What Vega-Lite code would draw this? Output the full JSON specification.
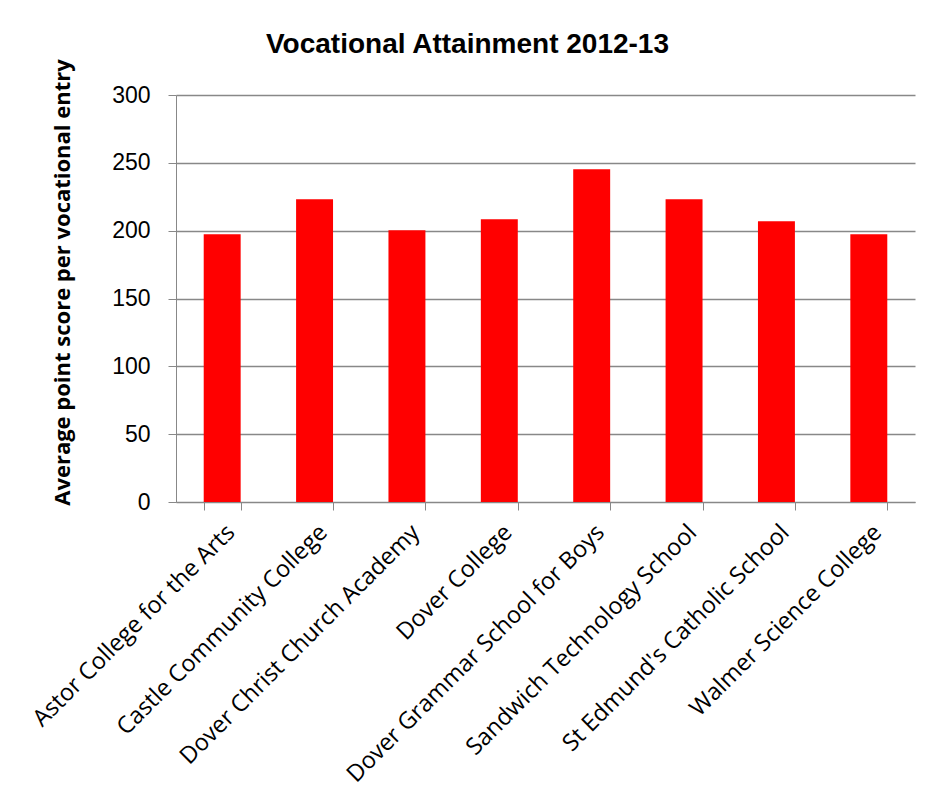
{
  "$schema": "https://vega.github.io/schema/vega-lite/v6.json",
  "width": 739,
  "height": 407,
  "autosize": {"type": "none"},
  "padding": {"left": 176, "top": 95, "right": 15, "bottom": 292},
  "background": "white",
  "title": {
    "text": "Vocational Attainment 2012-13",
    "font": "Liberation Sans",
    "fontSize": 28,
    "fontWeight": "bold",
    "color": "#000000",
    "anchor": "middle",
    "frame": "group",
    "dx": -78,
    "offset": 0
  },
  "data": {
    "values": [
      {"school": "Astor College for the Arts", "score": 197.3},
      {"school": "Castle Community College", "score": 223.1},
      {"school": "Dover Christ Church Academy", "score": 200.3},
      {"school": "Dover College", "score": 208.4},
      {"school": "Dover Grammar School for Boys", "score": 245.3},
      {"school": "Sandwich Technology School", "score": 223.1},
      {"school": "St Edmund's Catholic School", "score": 206.9},
      {"school": "Walmer Science College", "score": 197.3}
    ]
  },
  "mark": {"type": "bar", "color": "#ff0000"},
  "encoding": {
    "x": {
      "field": "school",
      "type": "nominal",
      "sort": null,
      "scale": {"paddingInner": 0.6, "paddingOuter": 0.3},
      "axis": {
        "title": null,
        "labelAngle": -45,
        "labelAlign": "right",
        "labelBaseline": "top",
        "labelFont": "Open Sans",
        "labelFontSize": 23.5,
        "labelColor": "#000000",
        "labelPadding": 10,
        "labelLimit": 600,
        "domainColor": "#888888",
        "tickColor": "#888888",
        "tickBand": "extent",
        "tickSize": 8
      }
    },
    "y": {
      "field": "score",
      "type": "quantitative",
      "scale": {"domain": [0, 300]},
      "axis": {
        "title": "Average point score per vocational entry",
        "titleFont": "Open Sans",
        "titleFontSize": 22,
        "titleFontWeight": "bold",
        "titleColor": "#000000",
        "titlePadding": 37,
        "titleY": 187,
        "values": [0, 50, 100, 150, 200, 250, 300],
        "labelFont": "Liberation Sans",
        "labelFontSize": 23,
        "labelColor": "#000000",
        "labelPadding": 18,
        "domainColor": "#888888",
        "tickColor": "#888888",
        "tickSize": 8,
        "gridColor": "#888888",
        "gridWidth": 1.3
      }
    }
  },
  "config": {"view": {"stroke": null}}
}
